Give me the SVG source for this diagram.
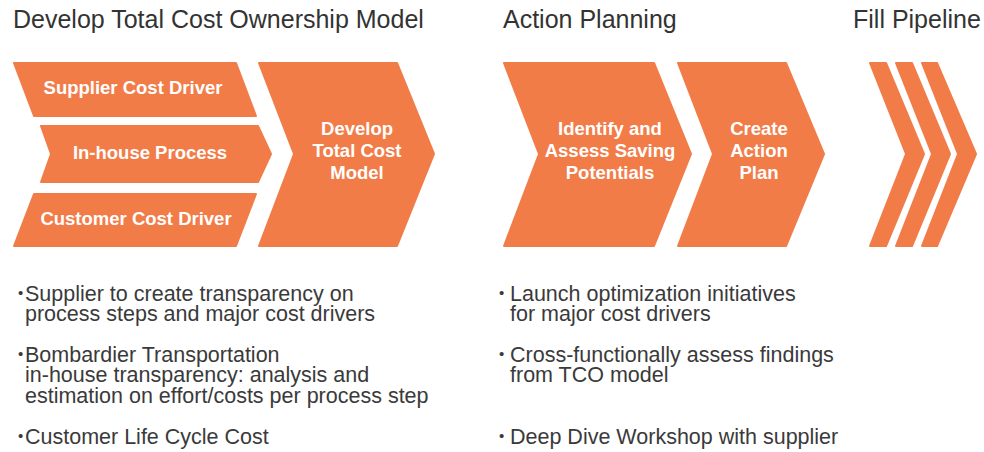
<svg xmlns="http://www.w3.org/2000/svg" width="984" height="452" viewBox="0 0 984 452">
<style>
.shape{fill:#F27C48;stroke:#F27C48;stroke-width:2;stroke-linejoin:round}
.lbl{font-family:"Liberation Sans",Arial,sans-serif;font-weight:bold;font-size:18.5px;fill:#ffffff;text-anchor:middle}
.title{font-family:"Liberation Sans",Arial,sans-serif;font-size:25px;fill:#333333}
.body{font-family:"Liberation Sans",Arial,sans-serif;font-size:21.5px;fill:#3a3a3a}
.dot{font-size:15px}
</style>
<rect width="984" height="452" fill="#ffffff"/>
<g id="titles">
<text class="title" x="13" y="28">Develop Total Cost Ownership Model</text>
<text class="title" x="503" y="28">Action Planning</text>
<text class="title" x="853" y="28">Fill Pipeline</text>
</g>
<g id="supplier-cost-driver">
<polygon class="shape" points="14,63 236,63 256,116 34,116"/>
<text class="lbl" x="133" y="94">Supplier Cost Driver</text>
</g>
<g id="in-house-process">
<polygon class="shape" points="41,126 258,126 271,154 258,182 41,182 51,154"/>
<text class="lbl" x="150" y="159">In-house Process</text>
</g>
<g id="customer-cost-driver">
<polygon class="shape" points="34,194 256,194 236,246 14,246"/>
<text class="lbl" x="136" y="225">Customer Cost Driver</text>
</g>
<g id="develop-total-cost-model">
<polygon class="shape" points="259,63 397,63 434,154 397,246 259,246 294,154"/>
<text class="lbl" x="357" y="135">Develop<tspan x="357" dy="22">Total Cost</tspan><tspan x="357" dy="22">Model</tspan></text>
</g>
<g id="identify-assess">
<polygon class="shape" points="504,63 654,63 691,154 654,246 504,246 539,154"/>
<text class="lbl" x="610" y="135">Identify and<tspan x="610" dy="22">Assess Saving</tspan><tspan x="610" dy="22">Potentials</tspan></text>
</g>
<g id="create-action-plan">
<polygon class="shape" points="678,63 786,63 824,154 786,246 678,246 713,154"/>
<text class="lbl" x="759" y="135">Create<tspan x="759" dy="22">Action</tspan><tspan x="759" dy="22">Plan</tspan></text>
</g>
<g id="fill-pipeline">
<polygon class="shape" points="870,63 886,63 924,154 886,246 870,246 906,154"/>
<polygon class="shape" points="896,63 912,63 950,154 912,246 896,246 932,154"/>
<polygon class="shape" points="922,63 937,63 976,154 937,246 922,246 958,154"/>
</g>
<g id="connectors"/>
<g id="notes-left">
<text class="body" x="18" y="301"><tspan class="dot" dy="-3">•</tspan><tspan x="25" dy="3">Supplier to create transparency on</tspan><tspan x="25" dy="20">process steps and major cost drivers</tspan></text>
<text class="body" x="18" y="362"><tspan class="dot" dy="-3">•</tspan><tspan x="25" dy="3">Bombardier Transportation</tspan><tspan x="25" dy="20">in-house transparency: analysis and</tspan><tspan x="25" dy="21">estimation on effort/costs per process step</tspan></text>
<text class="body" x="18" y="444"><tspan class="dot" dy="-3">•</tspan><tspan x="25" dy="3">Customer Life Cycle Cost</tspan></text>
</g>
<g id="notes-right">
<text class="body" x="499" y="301"><tspan class="dot" dy="-3">•</tspan><tspan x="510" dy="3">Launch optimization initiatives</tspan><tspan x="510" dy="20">for major cost drivers</tspan></text>
<text class="body" x="499" y="362"><tspan class="dot" dy="-3">•</tspan><tspan x="510" dy="3">Cross-functionally assess findings</tspan><tspan x="510" dy="20">from TCO model</tspan></text>
<text class="body" x="499" y="444"><tspan class="dot" dy="-3">•</tspan><tspan x="510" dy="3">Deep Dive Workshop with supplier</tspan></text>
</g>
</svg>
